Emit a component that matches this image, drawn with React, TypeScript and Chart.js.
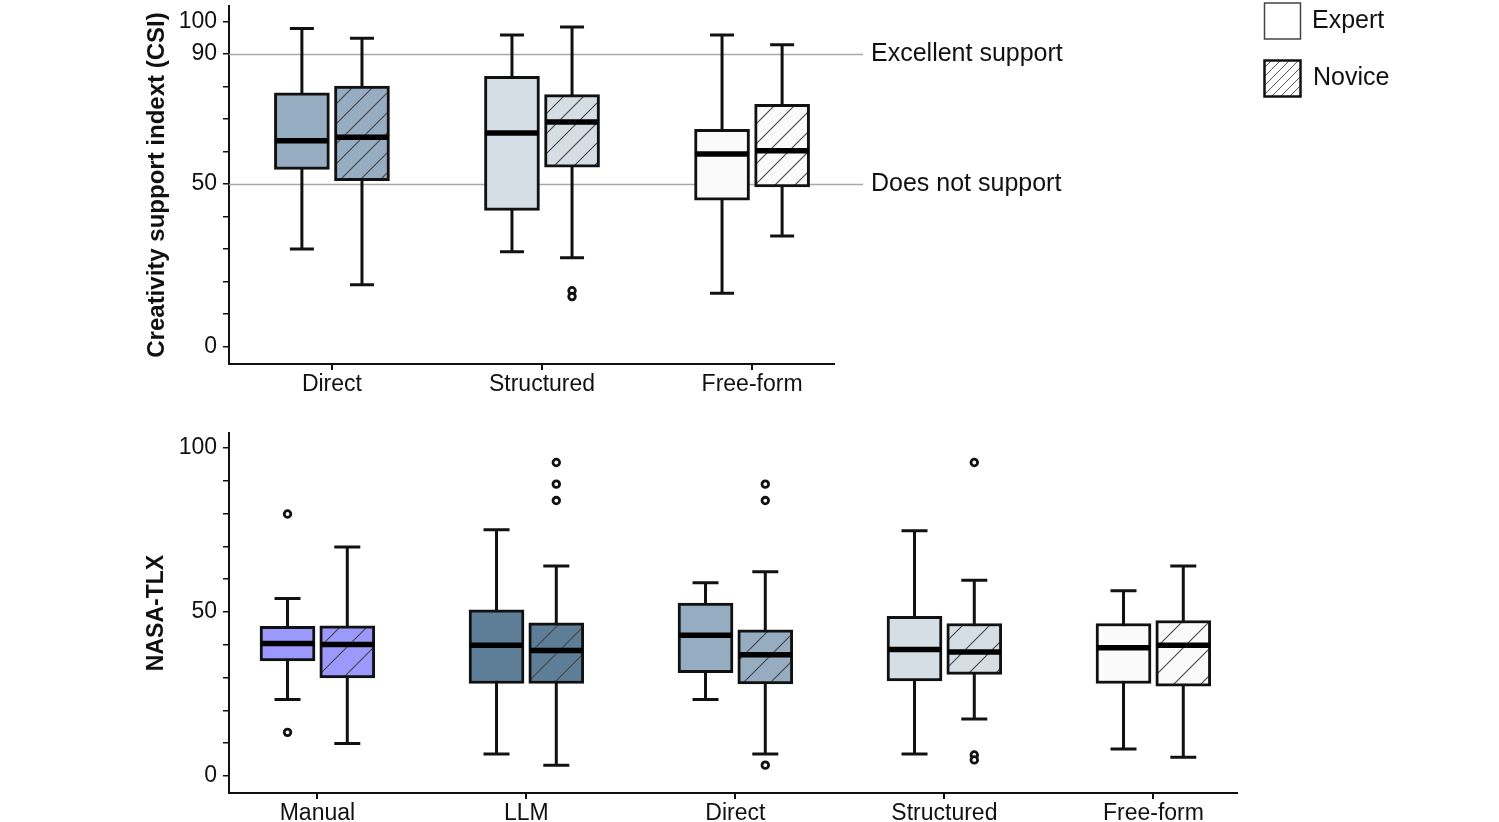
import React, { useEffect, useRef } from 'react';
import { Chart, registerables } from 'chart.js';

Chart.register(...registerables);

const FONT = '"Liberation Sans", Arial, Helvetica, sans-serif';
const INK = '#111111';

// ---------- Top chart: Creativity support index (CSI) ----------
const CSI_CATEGORIES = ['Direct', 'Structured', 'Free-form'];
const CSI_EXPERT_MIN = [30.0, 29.2, 16.4];
const CSI_EXPERT_Q1 = [54.5, 41.9, 45.0];
const CSI_EXPERT_MEDIAN = [63.3, 65.7, 59.2];
const CSI_EXPERT_Q3 = [78.0, 83.1, 66.8];
const CSI_EXPERT_MAX = [97.8, 95.8, 95.8];
const CSI_EXPERT_OUTLIERS: number[][] = [[], [], []];
const CSI_NOVICE_MIN = [19.0, 27.3, 34.0];
const CSI_NOVICE_Q1 = [51.0, 55.2, 49.1];
const CSI_NOVICE_MEDIAN = [64.4, 69.1, 60.2];
const CSI_NOVICE_Q3 = [80.1, 77.5, 74.5];
const CSI_NOVICE_MAX = [94.8, 98.3, 92.8];
const CSI_NOVICE_OUTLIERS: number[][] = [[], [17.2, 15.4], []];
const CSI_TICKS = [0, 10, 20, 30, 40, 50, 60, 70, 80, 90, 100];
const CSI_TICK_LABELS = [0, 50, 90, 100];
const CSI_REF_VALUES = [90, 50];
const CSI_REF_LABELS = ['Excellent support', 'Does not support'];

// ---------- Bottom chart: NASA-TLX ----------
const TLX_CATEGORIES = ['Manual', 'LLM', 'Direct', 'Structured', 'Free-form'];
const TLX_EXPERT_MIN = [23.3, 6.7, 23.3, 6.7, 8.2];
const TLX_EXPERT_Q1 = [35.1, 28.2, 31.5, 29.0, 28.2];
const TLX_EXPERT_MEDIAN = [40.4, 39.9, 42.9, 38.6, 39.1];
const TLX_EXPERT_Q3 = [45.6, 50.7, 52.7, 48.7, 46.5];
const TLX_EXPERT_MAX = [54.1, 75.1, 58.9, 74.8, 56.5];
const TLX_EXPERT_OUTLIERS: number[][] = [[79.9, 13.3], [], [], [], []];
const TLX_NOVICE_MIN = [9.9, 3.3, 6.7, 17.4, 5.7];
const TLX_NOVICE_Q1 = [29.9, 28.2, 28.1, 31.0, 27.4];
const TLX_NOVICE_MEDIAN = [40.1, 38.3, 37.0, 37.8, 39.9];
const TLX_NOVICE_Q3 = [45.8, 46.7, 44.6, 46.5, 47.4];
const TLX_NOVICE_MAX = [69.8, 64.0, 62.3, 59.7, 64.0];
const TLX_NOVICE_OUTLIERS: number[][] = [[], [95.6, 89.0, 84.0], [89.0, 84.0, 3.3], [95.6, 6.4, 4.9], []];
const TLX_TICKS = [0, 10, 20, 30, 40, 50, 60, 70, 80, 90, 100];
const TLX_TICK_LABELS = [0, 50, 100];

const CATEGORY_COLORS: Record<string, string> = {
  Manual: '#9b99fc',
  LLM: '#5e7d97',
  Direct: '#96acc1',
  Structured: '#d6dee5',
  'Free-form': '#fafafa',
};
const GROUP_LABELS = ['Expert', 'Novice'];

type Stats = { min: number[]; q1: number[]; median: number[]; q3: number[]; max: number[]; outliers: number[][] };

type Spec = {
  top: number;
  width: number;
  height: number;
  padding: { left: number; right: number; top: number; bottom: number };
  xAxisHeight: number;
  yAxisWidth: number;
  xMin: number;
  xMax: number;
  yMin: number;
  yMax: number;
  categories: string[];
  expert: Stats;
  novice: Stats;
  yTicks: number[];
  yTickLabels: number[];
  yTitle: string;
  yTitleSize: number;
  hatchPeriod: number;
  capWidth: number;
  refValues: number[];
  refLabels: string[];
  legend: boolean;
};

const GROUP_OFFSET = 0.143;
const BOX_WIDTH = 55;

const CSI_SPEC: Spec = {
  top: 0,
  width: 1499,
  height: 400,
  padding: { left: 143, right: 665, top: 2.5, bottom: 0 },
  xAxisHeight: 36,
  yAxisWidth: 86,
  xMin: 0.51,
  xMax: 3.39,
  yMin: -5.33,
  yMax: 104.7,
  categories: CSI_CATEGORIES,
  expert: { min: CSI_EXPERT_MIN, q1: CSI_EXPERT_Q1, median: CSI_EXPERT_MEDIAN, q3: CSI_EXPERT_Q3, max: CSI_EXPERT_MAX, outliers: CSI_EXPERT_OUTLIERS },
  novice: { min: CSI_NOVICE_MIN, q1: CSI_NOVICE_Q1, median: CSI_NOVICE_MEDIAN, q3: CSI_NOVICE_Q3, max: CSI_NOVICE_MAX, outliers: CSI_NOVICE_OUTLIERS },
  yTicks: CSI_TICKS,
  yTickLabels: CSI_TICK_LABELS,
  yTitle: 'Creativity support indext (CSI)',
  yTitleSize: 24,
  hatchPeriod: 20,
  capWidth: 24,
  refValues: CSI_REF_VALUES,
  refLabels: CSI_REF_LABELS,
  legend: true,
};

const TLX_SPEC: Spec = {
  top: 400,
  width: 1499,
  height: 422,
  padding: { left: 143, right: 262, top: 33, bottom: 0 },
  xAxisHeight: 29,
  yAxisWidth: 86,
  xMin: 0.577,
  xMax: 5.4,
  yMin: -5.2,
  yMax: 104.6,
  categories: TLX_CATEGORIES,
  expert: { min: TLX_EXPERT_MIN, q1: TLX_EXPERT_Q1, median: TLX_EXPERT_MEDIAN, q3: TLX_EXPERT_Q3, max: TLX_EXPERT_MAX, outliers: TLX_EXPERT_OUTLIERS },
  novice: { min: TLX_NOVICE_MIN, q1: TLX_NOVICE_Q1, median: TLX_NOVICE_MEDIAN, q3: TLX_NOVICE_Q3, max: TLX_NOVICE_MAX, outliers: TLX_NOVICE_OUTLIERS },
  yTicks: TLX_TICKS,
  yTickLabels: TLX_TICK_LABELS,
  yTitle: 'NASA-TLX',
  yTitleSize: 23,
  hatchPeriod: 27,
  capWidth: 26,
  refValues: [],
  refLabels: [],
  legend: false,
};

function hatch(fill: string, period: number, line: string, lw: number): CanvasPattern | string {
  const c = document.createElement('canvas');
  c.width = period;
  c.height = period;
  const g = c.getContext('2d');
  if (!g) return fill;
  g.fillStyle = fill;
  g.fillRect(0, 0, period, period);
  g.strokeStyle = line;
  g.lineWidth = lw;
  g.beginPath();
  g.moveTo(-1, period + 1);
  g.lineTo(period + 1, -1);
  g.moveTo(-1, 1);
  g.lineTo(1, -1);
  g.moveTo(period - 1, period + 1);
  g.lineTo(period + 1, period - 1);
  g.stroke();
  const p = g.createPattern(c, 'repeat');
  return p || fill;
}

function buildChart(canvas: HTMLCanvasElement, spec: Spec) {
  const { categories, expert, novice } = spec;
  const groups = [
    { stats: expert, offset: -GROUP_OFFSET },
    { stats: novice, offset: GROUP_OFFSET },
  ];

  const expertData = categories.map((_, i) => ({ x: i + 1 - GROUP_OFFSET, y: [expert.q1[i], expert.q3[i]] }));
  const noviceData = categories.map((_, i) => ({ x: i + 1 + GROUP_OFFSET, y: [novice.q1[i], novice.q3[i]] }));
  const outlierData: { x: number; y: number }[] = [];
  groups.forEach((g) => {
    g.stats.outliers.forEach((vals, i) => {
      vals.forEach((v) => outlierData.push({ x: i + 1 + g.offset, y: v }));
    });
  });

  const plugin = {
    id: 'boxExtras',
    beforeDatasetsDraw(chart: any) {
      const { ctx, chartArea } = chart;
      const xs = chart.scales.x;
      const ys = chart.scales.y;
      ctx.save();
      // reference lines + labels
      spec.refValues.forEach((v, i) => {
        const py = Math.round(ys.getPixelForValue(v)) + 0.5;
        ctx.strokeStyle = '#a8a8a8';
        ctx.lineWidth = 1.3;
        ctx.beginPath();
        ctx.moveTo(chartArea.left, py);
        ctx.lineTo(chartArea.right + 29, py);
        ctx.stroke();
        ctx.fillStyle = INK;
        ctx.font = `25px ${FONT}`;
        ctx.textAlign = 'left';
        ctx.textBaseline = 'middle';
        ctx.fillText(spec.refLabels[i], chartArea.right + 37, py);
      });
      // whiskers
      ctx.strokeStyle = INK;
      ctx.lineWidth = 3;
      ctx.lineCap = 'butt';
      groups.forEach((g) => {
        g.stats.min.forEach((_, i) => {
          const cx = xs.getPixelForValue(i + 1 + g.offset);
          const yLo = ys.getPixelForValue(g.stats.min[i]);
          const yHi = ys.getPixelForValue(g.stats.max[i]);
          const h = spec.capWidth / 2;
          ctx.beginPath();
          ctx.moveTo(cx, yLo);
          ctx.lineTo(cx, yHi);
          ctx.moveTo(cx - h, yLo);
          ctx.lineTo(cx + h, yLo);
          ctx.moveTo(cx - h, yHi);
          ctx.lineTo(cx + h, yHi);
          ctx.stroke();
        });
      });
      ctx.restore();
    },
    afterDatasetsDraw(chart: any) {
      const { ctx } = chart;
      const xs = chart.scales.x;
      const ys = chart.scales.y;
      ctx.save();
      ctx.strokeStyle = '#000000';
      ctx.lineWidth = 5.5;
      groups.forEach((g) => {
        g.stats.median.forEach((m, i) => {
          const cx = xs.getPixelForValue(i + 1 + g.offset);
          const py = ys.getPixelForValue(m);
          ctx.beginPath();
          ctx.moveTo(cx - BOX_WIDTH / 2 + 1, py);
          ctx.lineTo(cx + BOX_WIDTH / 2 - 1, py);
          ctx.stroke();
        });
      });
      if (spec.legend) {
        // Expert swatch
        ctx.fillStyle = '#ffffff';
        ctx.fillRect(1264.5, 3, 36, 36);
        ctx.strokeStyle = '#444444';
        ctx.lineWidth = 1.5;
        ctx.strokeRect(1264.5, 3, 36, 36);
        // Novice swatch
        ctx.fillStyle = hatch('#ffffff', 9, '#555555', 1);
        ctx.fillRect(1264.5, 60.5, 36, 36);
        ctx.strokeStyle = INK;
        ctx.lineWidth = 2.5;
        ctx.strokeRect(1264.5, 60.5, 36, 36);
        ctx.fillStyle = INK;
        ctx.font = `25px ${FONT}`;
        ctx.textAlign = 'left';
        ctx.textBaseline = 'middle';
        ctx.fillText(GROUP_LABELS[0], 1312, 21);
        ctx.fillText(GROUP_LABELS[1], 1313, 78);
      }
      ctx.restore();
    },
  };

  const tickFont = { family: FONT, size: 23 };

  return new Chart(canvas, {
    type: 'bar',
    data: {
      datasets: [
        {
          type: 'scatter',
          label: 'Outliers',
          data: outlierData,
          order: 0,
          pointRadius: 3.3,
          pointHoverRadius: 3.3,
          pointBorderWidth: 2.8,
          pointBackgroundColor: '#ffffff',
          pointBorderColor: INK,
        } as any,
        {
          type: 'bar',
          label: GROUP_LABELS[0],
          data: expertData as any,
          order: 1,
          grouped: false,
          barThickness: BOX_WIDTH,
          backgroundColor: categories.map((c) => CATEGORY_COLORS[c]),
          borderColor: INK,
          borderWidth: 3,
          borderSkipped: false,
        } as any,
        {
          type: 'bar',
          label: GROUP_LABELS[1],
          data: noviceData as any,
          order: 1,
          grouped: false,
          barThickness: BOX_WIDTH,
          backgroundColor: categories.map((c) => hatch(CATEGORY_COLORS[c], spec.hatchPeriod, '#444444', 1.1)),
          borderColor: INK,
          borderWidth: 3,
          borderSkipped: false,
        } as any,
      ],
    },
    options: {
      animation: false,
      responsive: false,
      maintainAspectRatio: false,
      events: [],
      layout: { padding: spec.padding },
      plugins: {
        legend: { display: false },
        tooltip: { enabled: false },
      },
      scales: {
        x: {
          type: 'linear',
          min: spec.xMin,
          max: spec.xMax,
          bounds: 'data',
          offset: false,
          grid: {
            display: true,
            offset: false,
            drawOnChartArea: false,
            drawTicks: true,
            tickLength: 6,
            color: INK,
            lineWidth: 2,
          },
          border: { display: true, color: INK, width: 2 },
          ticks: {
            font: tickFont,
            color: INK,
            padding: 1,
            maxRotation: 0,
            autoSkip: false,
            callback: (v: any) => categories[Math.round(Number(v)) - 1] ?? '',
          },
          afterBuildTicks: (s: any) => {
            s.ticks = categories.map((_, i) => ({ value: i + 1 }));
          },
          afterFit: (s: any) => {
            s.height = spec.xAxisHeight;
            s.paddingLeft = 0;
            s.paddingRight = 0;
          },
        } as any,
        y: {
          type: 'linear',
          min: spec.yMin,
          max: spec.yMax,
          bounds: 'data',
          grid: {
            display: true,
            drawOnChartArea: false,
            drawTicks: true,
            tickLength: 6,
            color: INK,
            lineWidth: 1.5,
          },
          border: { display: true, color: INK, width: 2 },
          ticks: {
            font: tickFont,
            color: INK,
            padding: 6,
            autoSkip: false,
            callback: (v: any) => (spec.yTickLabels.includes(Number(v)) ? String(v) : ''),
          },
          afterBuildTicks: (s: any) => {
            s.ticks = spec.yTicks.map((v) => ({ value: v }));
          },
          title: {
            display: true,
            text: spec.yTitle,
            color: INK,
            padding: 0,
            font: { family: FONT, size: spec.yTitleSize, weight: 'bold' },
          },
          afterFit: (s: any) => {
            s.width = spec.yAxisWidth;
            s.paddingTop = 0;
            s.paddingBottom = 0;
          },
        } as any,
      },
    },
    plugins: [plugin],
  } as any);
}

function BoxChart({ spec }: { spec: Spec }) {
  const ref = useRef<HTMLCanvasElement>(null);
  useEffect(() => {
    const canvas = ref.current;
    if (!canvas) return;
    const chart = buildChart(canvas, spec);
    return () => chart.destroy();
  }, [spec]);
  return (
    <canvas
      ref={ref}
      width={spec.width}
      height={spec.height}
      style={{ position: 'absolute', left: 0, top: spec.top, width: spec.width, height: spec.height, display: 'block' }}
    />
  );
}

export default function App() {
  return (
    <div style={{ position: 'fixed', left: 0, top: 0, width: 1499, height: 822, background: '#ffffff', overflow: 'hidden' }}>
      <BoxChart spec={CSI_SPEC} />
      <BoxChart spec={TLX_SPEC} />
    </div>
  );
}
